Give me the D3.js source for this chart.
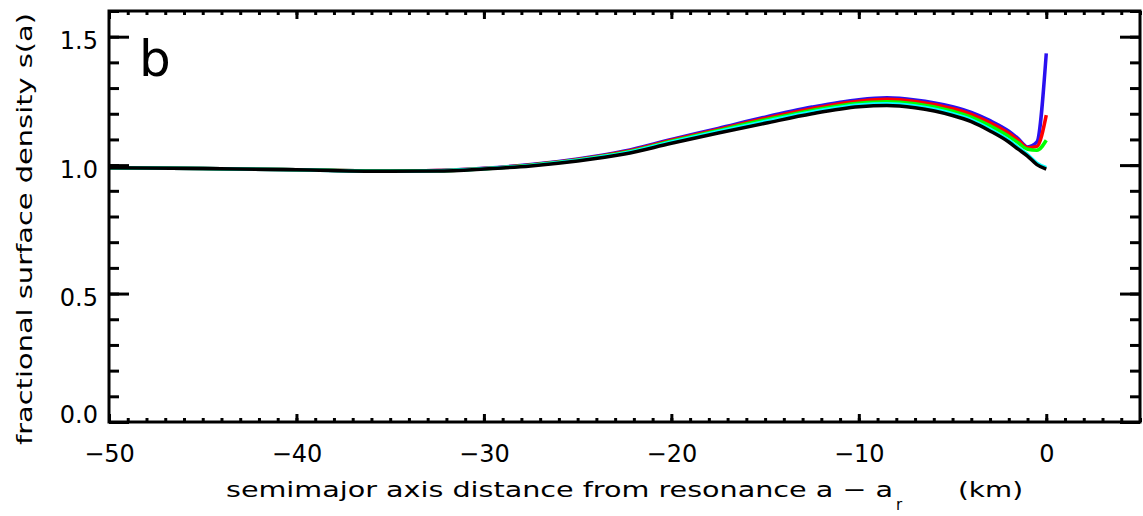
<!DOCTYPE html>
<html>
<head>
<meta charset="utf-8">
<script src="https://cdn.jsdelivr.net/npm/d3@7"></script>
<style>
  body { margin: 0; background: #fff; }
  svg text { font-family: 'DejaVu Sans', sans-serif; fill: #000; }
</style>
</head>
<body>
<div id="chart"></div>
<script>
// semimajor axis distance from resonance (km)
var xs = [-50, -45, -40, -35, -32.5, -30, -27.5, -25, -22.5, -20, -17.5, -15, -12.5, -10, -8.5, -7, -5, -4, -3, -2, -1.5, -1, -0.5, 0]

// fractional surface density, one array per run
var blue  = [0.990, 0.987, 0.982, 0.977, 0.979, 0.988, 1.002, 1.024, 1.055, 1.100, 1.143, 1.187, 1.226, 1.255, 1.262, 1.254, 1.227, 1.205, 1.173, 1.132, 1.103, 1.071, 1.090, 1.435]
var red   = [0.990, 0.987, 0.982, 0.977, 0.979, 0.987, 1.001, 1.022, 1.052, 1.097, 1.139, 1.182, 1.220, 1.249, 1.256, 1.248, 1.220, 1.198, 1.165, 1.124, 1.097, 1.068, 1.073, 1.195]
var green = [0.990, 0.987, 0.982, 0.977, 0.978, 0.986, 1.000, 1.020, 1.049, 1.093, 1.135, 1.176, 1.213, 1.241, 1.247, 1.239, 1.210, 1.187, 1.153, 1.112, 1.087, 1.062, 1.058, 1.097]
var cyan  = [0.990, 0.987, 0.982, 0.976, 0.978, 0.986, 0.999, 1.019, 1.047, 1.090, 1.131, 1.170, 1.207, 1.234, 1.239, 1.230, 1.200, 1.176, 1.140, 1.097, 1.069, 1.041, 1.008, 0.990]
var black = [0.990, 0.987, 0.982, 0.976, 0.977, 0.985, 0.997, 1.016, 1.043, 1.085, 1.125, 1.163, 1.200, 1.227, 1.232, 1.223, 1.193, 1.169, 1.133, 1.090, 1.062, 1.035, 1.002, 0.984]

var xMajor = [-50, -40, -30, -20, -10, 0]
var yMajor = [0.0, 0.5, 1.0, 1.5]

var series = [
  { color: '#2a10f0', values: blue },
  { color: '#ff0000', values: red },
  { color: '#00ff00', values: green },
  { color: '#00ffff', values: cyan },
  { color: '#000000', values: black }
]

var W = 1143, H = 516
var margin = { top: 11, right: 3, bottom: 94, left: 109 }
var w = W - margin.left - margin.right
var h = H - margin.top - margin.bottom

var x = d3.scaleLinear().domain([-50, 5]).range([0, w])
var y = d3.scaleLinear().domain([0, 1.6]).range([h, 0])

var svg = d3.select('#chart').append('svg')
  .attr('width', W)
  .attr('height', H)

var g = svg.append('g')
  .attr('transform', 'translate(' + margin.left + ',' + margin.top + ')')

// curves
var line = d3.line()
  .x(function (d, i) { return x(xs[i]) })
  .y(function (d) { return y(d) })
  .curve(d3.curveMonotoneX)

g.append('g').attr('class', 'data')
  .selectAll('path')
  .data(series)
  .enter().append('path')
  .attr('d', function (s) { return line(s.values) })
  .attr('fill', 'none')
  .attr('stroke', function (s) { return s.color })
  .attr('stroke-width', 3.5)
  .attr('stroke-linejoin', 'round')

// axes: ticks point inward on all four sides
function styleAxis (sel) {
  sel.select('.domain').remove()
  sel.selectAll('line').attr('stroke', '#000').attr('stroke-width', 3)
  sel.selectAll('text').attr('font-size', 24)
}

var xMinor = d3.range(-50, 5.5, 1)
var yMinor = d3.range(0, 1.65, 0.1)

g.append('g').attr('transform', 'translate(0,' + h + ')')
  .call(d3.axisBottom(x).tickValues(xMinor).tickSize(-4).tickFormat(''))
  .call(styleAxis)
var xb = g.append('g').attr('transform', 'translate(0,' + h + ')')
  .call(d3.axisBottom(x).tickValues(xMajor).tickSize(-8).tickPadding(0))
  .call(styleAxis)
xb.selectAll('text').attr('y', 40).attr('dy', 0)

g.append('g')
  .call(d3.axisTop(x).tickValues(xMinor).tickSize(-4).tickFormat(''))
  .call(styleAxis)
g.append('g')
  .call(d3.axisTop(x).tickValues(xMajor).tickSize(-8).tickFormat(''))
  .call(styleAxis)

g.append('g')
  .call(d3.axisLeft(y).tickValues(yMinor).tickSize(-10).tickFormat(''))
  .call(styleAxis)
var yl = g.append('g')
  .call(d3.axisLeft(y).tickValues(yMajor).tickSize(-20).tickPadding(11).tickFormat(d3.format('.1f')))
  .call(styleAxis)
yl.selectAll('text').attr('dy', function (d) { return d === 0 ? 0 : 12 })

g.append('g').attr('transform', 'translate(' + w + ',0)')
  .call(d3.axisRight(y).tickValues(yMinor).tickSize(-10).tickFormat(''))
  .call(styleAxis)
g.append('g').attr('transform', 'translate(' + w + ',0)')
  .call(d3.axisRight(y).tickValues(yMajor).tickSize(-20).tickFormat(''))
  .call(styleAxis)

// frame
g.append('rect')
  .attr('width', w)
  .attr('height', h)
  .attr('fill', 'none')
  .attr('stroke', '#000')
  .attr('stroke-width', 3)

// panel letter
g.append('text')
  .attr('x', 30)
  .attr('y', 65)
  .attr('font-size', 50)
  .text('b')

// axis titles
svg.append('text')
  .attr('x', 226)
  .attr('y', 497)
  .attr('font-size', 22)
  .attr('textLength', 667)
  .attr('lengthAdjust', 'spacingAndGlyphs')
  .text('semimajor axis distance from resonance a \u2212 a')
svg.append('text')
  .attr('x', 896)
  .attr('y', 510)
  .attr('font-size', 15)
  .text('r')
svg.append('text')
  .attr('x', 958)
  .attr('y', 497)
  .attr('font-size', 22)
  .attr('textLength', 65)
  .attr('lengthAdjust', 'spacingAndGlyphs')
  .text('(km)')

svg.append('text')
  .attr('transform', 'translate(32,229) rotate(-90)')
  .attr('text-anchor', 'middle')
  .attr('font-size', 22)
  .attr('textLength', 432)
  .attr('lengthAdjust', 'spacingAndGlyphs')
  .text('fractional surface density s(a)')
</script>
</body>
</html>
